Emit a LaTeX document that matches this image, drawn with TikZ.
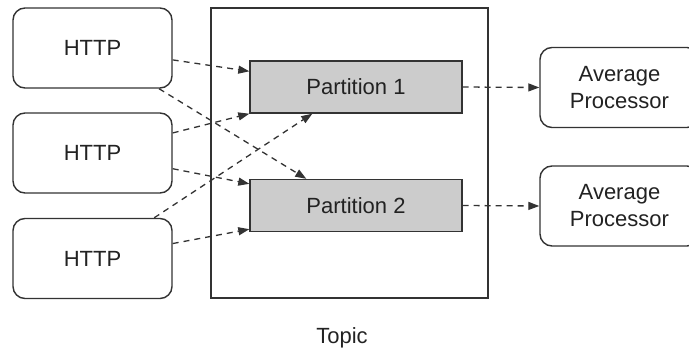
\documentclass[tikz,border=0pt]{standalone}
\usepackage{fontspec}
\setmainfont{Liberation Sans}
\usetikzlibrary{arrows.meta,calc}
\definecolor{edge}{HTML}{333333}
\definecolor{ink}{HTML}{222222}
\definecolor{partfill}{HTML}{CCCCCC}
\begin{document}
\begin{tikzpicture}[x=1pt,y=-1pt,
  every node/.style={font=\fontsize{22}{27}\selectfont, text=ink, align=center, inner sep=0pt},
  client/.style={draw=edge, line width=1.4pt, rounded corners=12pt, fill=white,
    minimum width=159pt, minimum height=80pt},
  partbox/.style={draw=edge, line width=1.4pt, fill=partfill,
    minimum width=212pt, minimum height=52pt},
  topicbox/.style={draw=edge, line width=1.4pt, fill=white,
    minimum width=277pt, minimum height=290pt},
  flow/.style={draw=edge, line width=1.3pt, dash pattern=on 6pt off 5pt,
    -{Triangle[length=11pt,width=8pt]}}
]
\useasboundingbox (0,0) rectangle (689,353);

% topic container and its label
\node[topicbox] (topic) at (349.5,153) {};
\node (topiclabel) at (342,338) {Topic};

% partitions
\node[partbox] (p1) at (356,87) {Partition 1};
\node[partbox] (p2) at (356,205.5) {Partition 2};

% producers
\node[client] (h1) at (92.5,48) {HTTP};
\node[client] (h2) at (92.5,153) {HTTP};
\node[client] (h3) at (92.5,258.5) {HTTP};

% consumers
\begin{scope}
\clip (0,0) rectangle (689,353);
\node[client] (a1) at (619.5,87.5) {Average\\Processor};
\node[client] (a2) at (619.5,206) {Average\\Processor};
\end{scope}

% entry points on the partitions
\coordinate (p1a) at ($(p1.north west)+(0,11)$);
\coordinate (p1b) at (p1.south west);
\coordinate (p1c) at ($(p1.south west)+(63,0)$);
\coordinate (p2a) at ($(p2.north west)+(57,0)$);
\coordinate (p2b) at ($(p2.north west)+(0,5)$);
\coordinate (p2c) at ($(p2.south west)+(0,-3)$);

% producer -> partition
\draw[flow] (h1) -- (p1a);
\draw[flow] (h1) -- (p2a);
\draw[flow] (h2) -- (p1b);
\draw[flow] (h2) -- (p2b);
\draw[flow] (h3) -- (p1c);
\draw[flow] (h3) -- (p2c);

% partition -> consumer
\draw[flow] (p1.east) -- (a1.west);
\draw[flow] (p2.east) -- (a2.west);
\end{tikzpicture}
\end{document}
